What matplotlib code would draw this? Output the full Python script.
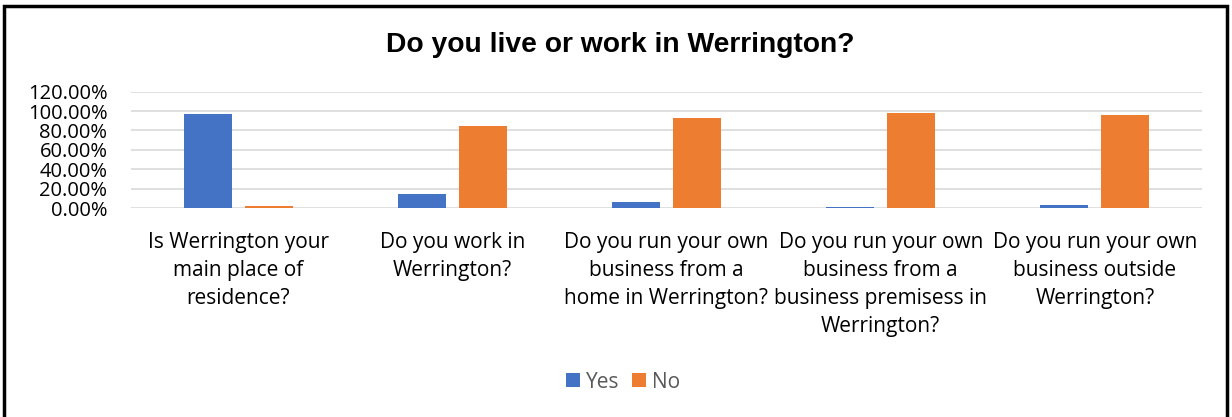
import matplotlib.pyplot as plt
from matplotlib.patches import Rectangle
from matplotlib.ticker import FuncFormatter
import numpy as np

categories = [
    'Is Werrington your\nmain place of\nresidence?',
    'Do you work in\nWerrington?',
    'Do you run your own\nbusiness from a\nhome in Werrington?',
    'Do you run your own\nbusiness from a\nbusiness premisess in\nWerrington?',
    'Do you run your own\nbusiness outside\nWerrington?',
]
yes_vals = [97.3, 14.8, 6.2, 1.0, 3.0]
no_vals = [2.0, 84.6, 93.2, 98.3, 96.3]

blue = '#4472C4'
orange = '#ED7D31'
body_font = ['Open Sans', 'DejaVu Sans']

fig = plt.figure(figsize=(12.32, 4.17), dpi=100)
ax = fig.add_axes([131 / 1232, 1 - 208 / 417, (1202 - 131) / 1232, (208 - 91.7) / 417])

x = np.arange(len(categories))
w = 0.224
off = 0.1425
ax.bar(x - off, yes_vals, w, color=blue, label='Yes', zorder=3)
ax.bar(x + off, no_vals, w, color=orange, label='No', zorder=3)

ax.set_xlim(-0.5, len(categories) - 0.5)
ax.set_ylim(0, 120)
ax.set_yticks(np.arange(0, 121, 20))
ax.yaxis.set_major_formatter(FuncFormatter(lambda v, p: '%.2f%%' % v))
ax.grid(axis='y', color='#D9D9D9', linewidth=1.2, zorder=0)
for s in ax.spines.values():
    s.set_visible(False)
ax.tick_params(axis='y', length=0, labelsize=14.5, labelcolor='black', pad=17)
ax.tick_params(axis='x', length=0, pad=0)
ax.set_xticks(x)
ax.set_xticklabels([])
for i, lab in enumerate(categories):
    ax.text(i, -25, lab, ha='center', va='top', fontsize=15, color='black',
            family=body_font, linespacing=1.43, transform=ax.transData)
for t in ax.get_yticklabels():
    t.set_family(body_font)

fig.text(0.5 + 4 / 1232, 1 - 45 / 417, 'Do you live or work in Werrington?', ha='center', va='center',
         fontsize=20.3, fontweight='bold', family=['Liberation Sans', 'DejaVu Sans'])

leg = fig.legend(loc='center', bbox_to_anchor=(0.5 + 7 / 1232, 1 - 382 / 417), ncol=2, frameon=False,
                 handlelength=0.67, handleheight=0.67, handletextpad=0.3,
                 columnspacing=0.6, prop={'family': body_font, 'size': 15})
for t in leg.get_texts():
    t.set_color('#595959')

fig.add_artist(Rectangle((4 / 1232, -10 / 417), 1 - 9 / 1232, 1 + 4 / 417,
                         transform=fig.transFigure, fill=False, edgecolor='black', linewidth=2.5))

fig.savefig('out.png', dpi=100)
